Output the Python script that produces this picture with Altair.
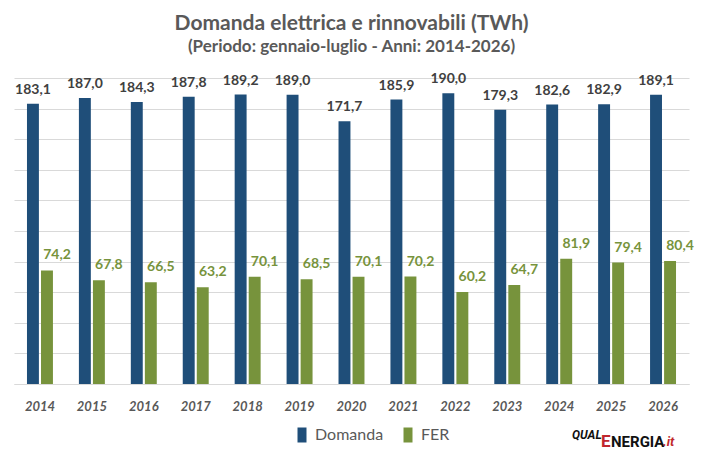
import altair as alt
import pandas as pd

# dati: gennaio-luglio, TWh
anni = [str(a) for a in range(2014, 2027)]
domanda = [183.1, 187.0, 184.3, 187.8, 189.2, 189.0, 171.7, 185.9, 190.0, 179.3, 182.6, 182.9, 189.1]
fer = [74.2, 67.8, 66.5, 63.2, 70.1, 68.5, 70.1, 70.2, 60.2, 64.7, 81.9, 79.4, 80.4]
serie = ["Domanda", "FER"]
colori = ["#1F4E79", "#77933C"]

righe = []
for a, d, f in zip(anni, domanda, fer):
    righe.append({"Anno": a, "Serie": "Domanda", "TWh": d})
    righe.append({"Anno": a, "Serie": "FER", "TWh": f})
df = pd.DataFrame(righe)
df["Etichetta"] = df["TWh"].map(lambda v: f"{v:.1f}".replace(".", ","))

FONT = "Lato"
GRIGIO = "#595959"
GRIGLIA = "#D9D9D9"

x_enc = alt.X(
    "Anno:N",
    sort=anni,
    scale=alt.Scale(paddingInner=0.5, paddingOuter=0.25),
    axis=alt.Axis(
        title=None,
        labelAngle=0,
        labelFont=FONT,
        labelFontSize=13,
        labelFontStyle="italic",
        labelFontWeight="bold",
        labelColor=GRIGIO,
        labelPadding=16,
        ticks=False,
        domainColor=GRIGLIA,
        grid=False,
    ),
)
xo_enc = alt.XOffset("Serie:N", sort=serie, scale=alt.Scale(domain=serie, paddingInner=0.15))
y_enc = alt.Y(
    "TWh:Q",
    scale=alt.Scale(domain=[0, 200], nice=False),
    axis=alt.Axis(
        title=None,
        labels=False,
        ticks=False,
        domain=False,
        values=list(range(0, 201, 20)),
        gridColor=GRIGLIA,
    ),
)

base = alt.Chart(df)

barre = base.mark_bar().encode(
    x=x_enc,
    xOffset=xo_enc,
    y=y_enc,
    color=alt.Color(
        "Serie:N",
        scale=alt.Scale(domain=serie, range=colori),
        legend=alt.Legend(
            title=None,
            orient="none",
            direction="horizontal",
            legendX=280,
            legendY=349,
            symbolType="M-0.6,-1H0.6V1H-0.6Z",
            symbolSize=225,
            symbolStrokeWidth=0,
            symbolOpacity=1,
            labelFont=FONT,
            labelFontSize=16,
            labelColor=GRIGIO,
            labelOffset=5,
            columnPadding=16,
        ),
    ),
)

etich_domanda = base.transform_filter("datum.Serie == 'Domanda'").mark_text(
    dy=-14, font=FONT, fontSize=14, fontWeight="bold", color="#404040"
).encode(x=x_enc, xOffset=xo_enc, y=y_enc, text="Etichetta:N")

etich_fer = base.transform_filter("datum.Serie == 'FER'").mark_text(
    dx=10, dy=-15, font=FONT, fontSize=14, fontWeight="bold", color="#77933C"
).encode(x=x_enc, xOffset=xo_enc, y=y_enc, text="Etichetta:N")

# logo QualEnergia.it
uno = "datum.Anno == '2014' && datum.Serie == 'FER'"
logo_qual = base.transform_filter(uno).mark_text(
    align="left", font="Roboto", fontSize=12, fontWeight="bold", fontStyle="italic", color="#111111"
).encode(x=alt.value(558), y=alt.value(357), text=alt.value("QUAL"))
logo_e = base.transform_filter(uno).mark_text(
    align="left", font="Roboto", fontSize=17, fontWeight="bold", color="#C0272D"
).encode(x=alt.value(587), y=alt.value(364), text=alt.value("E"))
logo_nergia = base.transform_filter(uno).mark_text(
    align="left", font="Roboto", fontSize=15, fontWeight="bold", color="#111111"
).encode(x=alt.value(597), y=alt.value(364), text=alt.value("NERGIA"))
logo_it = base.transform_filter(uno).mark_text(
    align="left", font="Roboto", fontSize=13, fontWeight="bold", fontStyle="italic", color="#C0272D"
).encode(x=alt.value(649), y=alt.value(364), text=alt.value(".it"))

chart = alt.layer(
    barre, etich_domanda, etich_fer, logo_qual, logo_e, logo_nergia, logo_it
).properties(
    width=675,
    height=306,
    autosize=alt.AutoSizeParams(type="none"),
    padding={"left": 6, "top": 70, "right": 8, "bottom": 68},
    background="white",
    title=alt.TitleParams(
        text="Domanda elettrica e rinnovabili (TWh)",
        subtitle="(Periodo: gennaio-luglio - Anni: 2014-2026)",
        anchor="middle",
        font=FONT,
        fontSize=21,
        fontWeight="bold",
        color=GRIGIO,
        subtitleFont=FONT,
        subtitleFontSize=17,
        subtitleFontWeight="bold",
        subtitleColor=GRIGIO,
        subtitlePadding=5,
        offset=17,
    ),
).configure_view(stroke=None)

chart.save("out.html", embed_options={"renderer": "svg", "actions": False})
